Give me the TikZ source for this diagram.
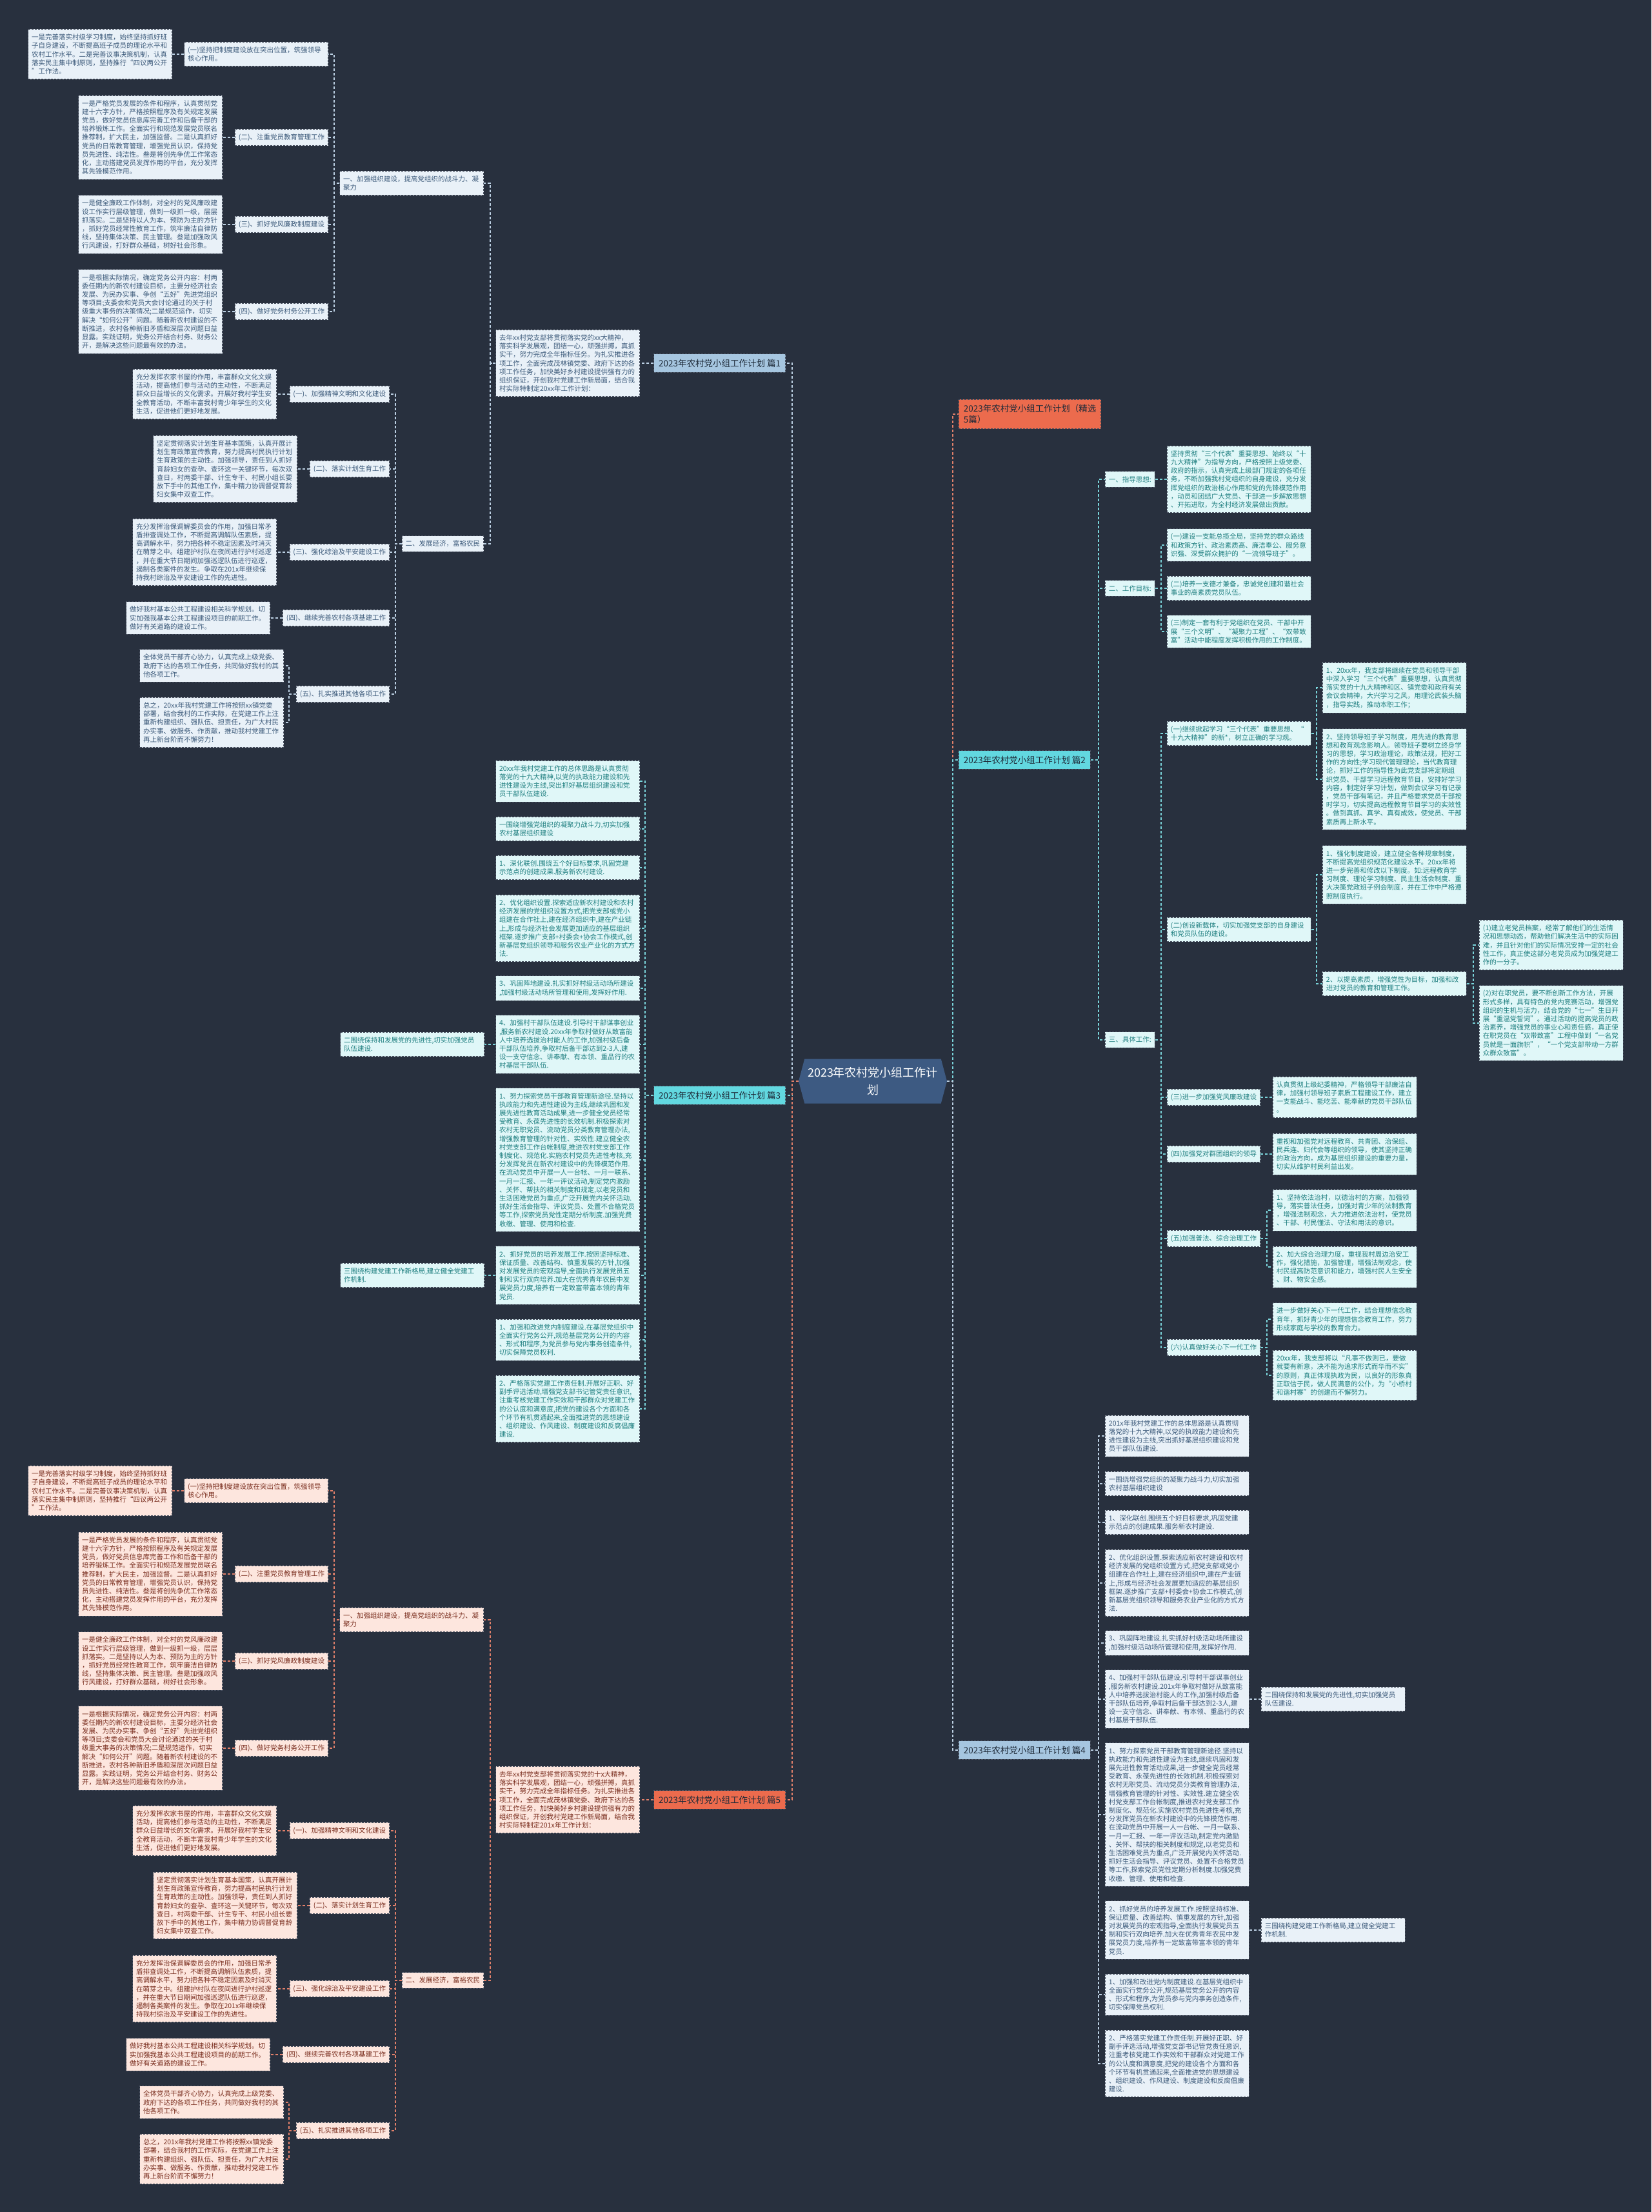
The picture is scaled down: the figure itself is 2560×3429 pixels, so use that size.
\documentclass[tikz,border=0pt]{standalone}
\usepackage{fontspec}
\setmainfont{Noto Sans CJK SC}
\usetikzlibrary{shapes.symbols,backgrounds}

\definecolor{bgc}{HTML}{28303E}
\definecolor{edgec}{HTML}{4A5262}
\definecolor{inkc}{HTML}{1E2A38}
\definecolor{hubc}{HTML}{3D5A82}
\definecolor{blueF}{HTML}{E9F1F8}
\definecolor{blueT}{HTML}{3C5A7A}
\definecolor{blueL}{HTML}{BCD0E3}
\definecolor{blueB}{HTML}{A6C6E0}
\definecolor{cyanF}{HTML}{E0F7F8}
\definecolor{cyanT}{HTML}{1F7F80}
\definecolor{cyanL}{HTML}{7AD4DA}
\definecolor{cyanB}{HTML}{62D8E0}
\definecolor{redF}{HTML}{FDE6DE}
\definecolor{redT}{HTML}{7A2E1F}
\definecolor{redL}{HTML}{E2806A}
\definecolor{redB}{HTML}{EC6B4D}

\tikzset{
  tagbox/.style={draw=edgec, dash pattern=on 3pt off 2pt, line width=0.9pt,
    inner xsep=5.5pt, inner ysep=7.3pt, align=left,
    font=\fontsize{10.5pt}{13.2pt}\selectfont},
  textbox/.style={tagbox, text width=212pt},
  bnote/.style={fill=blueF, text=blueT},
  cnote/.style={fill=cyanF, text=cyanT},
  rnote/.style={fill=redF, text=redT},
  topic/.style={draw=edgec, dash pattern=on 3pt off 2pt, line width=0.9pt,
    inner xsep=7.5pt, inner ysep=8pt, text=inkc, align=left,
    font=\fontsize{13.5pt}{17pt}\selectfont},
  wire/.style={dash pattern=on 4pt off 3pt, line width=1.5pt},
  bwire/.style={wire, draw=blueL},
  cwire/.style={wire, draw=cyanL},
  rwire/.style={wire, draw=redL}
}

\begin{document}
\begin{tikzpicture}[x=1pt,y=-1pt]
\useasboundingbox (0,0) rectangle (2560,3429);
\begin{scope}[on background layer]
\fill[bgc] (0,0) rectangle (2560,3429);
\end{scope}

% spines
\coordinate (sL) at (1228,0);
\coordinate (sR) at (1477,0);
\coordinate (s1) at (760,0);
\coordinate (s1a) at (518,0);
\coordinate (s1b) at (613,0);
\coordinate (s1c) at (448,0);
\coordinate (s3) at (1000,0);
\coordinate (s2) at (1703,0);
\coordinate (s2b) at (1800,0);
\coordinate (s2d) at (2041,0);
\coordinate (s2e) at (2284,0);
\coordinate (s2f) at (1964,0);

\node[shape=signal, signal to=west and east, signal pointer angle=150,
  fill=hubc, text=white, align=center, font=\fontsize{18pt}{27pt}\selectfont,
  minimum width=230pt, minimum height=69pt, inner sep=2pt] (hub) at (1353,1676)
  {2023年农村党小组工作计\\划};

% 篇1
\node[topic, fill=blueB, anchor=east] (b1) at (1218,563) {2023年农村党小组工作计划 篇1};
\node[textbox, bnote, anchor=east] (p1) at (992,563) {去年xx村党支部将贯彻落实党的xx大精神，\\落实科学发展观，团结一心，顽强拼搏，真抓\\实干，努力完成全年指标任务。为扎实推进各\\项工作，全面完成茂林镇党委、政府下达的各\\项工作任务，加快美好乡村建设提供强有力的\\组织保证，开创我村党建工作新局面，结合我\\村实际特制定20xx年工作计划：};
\node[textbox, bnote, anchor=east] (h1a) at (750,284) {一、加强组织建设，提高党组织的战斗力、凝\\聚力};
\node[tagbox, bnote, anchor=east] (h1b) at (750,843) {二、发展经济，富裕农民};

\node[textbox, bnote, anchor=east] (k1a) at (509,84) {(一)坚持把制度建设放在突出位置，筑强领导\\核心作用。};
\node[tagbox, bnote, anchor=east] (k1b) at (509,213) {(二)、注重党员教育管理工作};
\node[tagbox, bnote, anchor=east] (k1c) at (509,348) {(三)、抓好党风廉政制度建设};
\node[tagbox, bnote, anchor=east] (k1d) at (509,483) {(四)、做好党务村务公开工作};
\node[textbox, bnote, anchor=east] (q1a) at (267,84) {一是完善落实村级学习制度，始终坚持抓好班\\子自身建设，不断提高班子成员的理论水平和\\农村工作水平。二是完善议事决策机制，认真\\落实民主集中制原则，坚持推行“四议两公开\\”工作法。};
\node[textbox, bnote, anchor=east] (q1b) at (345,213) {一是严格党员发展的条件和程序，认真贯彻党\\建十六字方针，严格按照程序及有关规定发展\\党员，做好党员信息库完善工作和后备干部的\\培养锻炼工作。全面实行和规范发展党员联名\\推荐制，扩大民主，加强监督。二是认真抓好\\党员的日常教育管理，增强党员认识，保持党\\员先进性、纯洁性。叁是将创先争优工作常态\\化，主动搭建党员发挥作用的平台，充分发挥\\其先锋模范作用。};
\node[textbox, bnote, anchor=east] (q1c) at (345,348) {一是健全廉政工作体制，对全村的党风廉政建\\设工作实行层级管理，做到一级抓一级，层层\\抓落实。二是坚持以人为本、预防为主的方针\\，抓好党员经常性教育工作，筑牢廉洁自律防\\线，坚持集体决策、民主管理。叁是加强政风\\行风建设，打好群众基础，树好社会形象。};
\node[textbox, bnote, anchor=east] (q1d) at (345,483) {一是根据实际情况，确定党务公开内容：村两\\委任期内的新农村建设目标，主要分经济社会\\发展、为民办实事、争创“五好”先进党组织\\等项目;支委会和党员大会讨论通过的关于村\\级重大事务的决策情况;二是规范运作，切实\\解决“如何公开”问题。随着新农村建设的不\\断推进，农村各种新旧矛盾和深层次问题日益\\显露。实践证明，党务公开结合村务、财务公\\开，是解决这些问题最有效的办法。};

\node[tagbox, bnote, anchor=east] (k1e) at (604,611) {(一)、加强精神文明和文化建设};
\node[tagbox, bnote, anchor=east] (k1f) at (604,727) {(二)、落实计划生育工作};
\node[tagbox, bnote, anchor=east] (k1g) at (604,856) {(三)、强化综治及平安建设工作};
\node[tagbox, bnote, anchor=east] (k1h) at (604,958) {(四)、继续完善农村各项基建工作};
\node[tagbox, bnote, anchor=east] (k1i) at (604,1076) {(五)、扎实推进其他各项工作};
\node[textbox, bnote, anchor=east] (q1e) at (429,611) {充分发挥农家书屋的作用，丰富群众文化文娱\\活动，提高他们参与活动的主动性，不断满足\\群众日益增长的文化需求。开展好我村学生安\\全教育活动，不断丰富我村青少年学生的文化\\生活，促进他们更好地发展。};
\node[textbox, bnote, anchor=east] (q1f) at (461,727) {坚定贯彻落实计划生育基本国策，认真开展计\\划生育政策宣传教育，努力提高村民执行计划\\生育政策的主动性。加强领导，责任到人抓好\\育龄妇女的查孕、查环这一关键环节，每次双\\查日，村两委干部、计生专干、村民小组长要\\放下手中的其他工作，集中精力协调督促育龄\\妇女集中双查工作。};
\node[textbox, bnote, anchor=east] (q1g) at (429,856) {充分发挥治保调解委员会的作用，加强日常矛\\盾排查调处工作，不断提高调解队伍素质，提\\高调解水平，努力把各种不稳定因素及时消灭\\在萌芽之中。组建护村队在夜间进行护村巡逻\\，并在重大节日期间加强巡逻队伍进行巡逻，\\遏制各类案件的发生。争取在201x年继续保\\持我村综治及平安建设工作的先进性。};
\node[textbox, bnote, anchor=east] (q1h) at (419,958) {做好我村基本公共工程建设相关科学规划。切\\实加强我基本公共工程建设项目的前期工作。\\做好有关道路的建设工作。};
\node[textbox, bnote, anchor=east] (q1i) at (440,1032) {全体党员干部齐心协力，认真完成上级党委、\\政府下达的各项工作任务，共同做好我村的其\\他各项工作。};
\node[textbox, bnote, anchor=east] (q1j) at (440,1120) {总之，20xx年我村党建工作将按照xx镇党委\\部署，结合我村的工作实际，在党建工作上注\\重新构建组织、强队伍、担责任，为广大村民\\办实事、做服务、作贡献，推动我村党建工作\\再上新台阶而不懈努力！};

% 篇5
\begin{scope}[shift={(0,2227)}]
\node[topic, fill=redB, anchor=east] (b5) at (1218,563) {2023年农村党小组工作计划 篇5};
\node[textbox, rnote, anchor=east] (p5) at (992,563) {去年xx村党支部将贯彻落实党的十x大精神，\\落实科学发展观，团结一心，顽强拼搏，真抓\\实干，努力完成全年指标任务。为扎实推进各\\项工作，全面完成茂林镇党委、政府下达的各\\项工作任务，加快美好乡村建设提供强有力的\\组织保证，开创我村党建工作新局面，结合我\\村实际特制定201x年工作计划：};
\node[textbox, rnote, anchor=east] (h5a) at (750,284) {一、加强组织建设，提高党组织的战斗力、凝\\聚力};
\node[tagbox, rnote, anchor=east] (h5b) at (750,843) {二、发展经济，富裕农民};

\node[textbox, rnote, anchor=east] (k5a) at (509,84) {(一)坚持把制度建设放在突出位置，筑强领导\\核心作用。};
\node[tagbox, rnote, anchor=east] (k5b) at (509,213) {(二)、注重党员教育管理工作};
\node[tagbox, rnote, anchor=east] (k5c) at (509,348) {(三)、抓好党风廉政制度建设};
\node[tagbox, rnote, anchor=east] (k5d) at (509,483) {(四)、做好党务村务公开工作};
\node[textbox, rnote, anchor=east] (q5a) at (267,84) {一是完善落实村级学习制度，始终坚持抓好班\\子自身建设，不断提高班子成员的理论水平和\\农村工作水平。二是完善议事决策机制，认真\\落实民主集中制原则，坚持推行“四议两公开\\”工作法。};
\node[textbox, rnote, anchor=east] (q5b) at (345,213) {一是严格党员发展的条件和程序，认真贯彻党\\建十六字方针，严格按照程序及有关规定发展\\党员，做好党员信息库完善工作和后备干部的\\培养锻炼工作。全面实行和规范发展党员联名\\推荐制，扩大民主，加强监督。二是认真抓好\\党员的日常教育管理，增强党员认识，保持党\\员先进性、纯洁性。叁是将创先争优工作常态\\化，主动搭建党员发挥作用的平台，充分发挥\\其先锋模范作用。};
\node[textbox, rnote, anchor=east] (q5c) at (345,348) {一是健全廉政工作体制，对全村的党风廉政建\\设工作实行层级管理，做到一级抓一级，层层\\抓落实。二是坚持以人为本、预防为主的方针\\，抓好党员经常性教育工作，筑牢廉洁自律防\\线，坚持集体决策、民主管理。叁是加强政风\\行风建设，打好群众基础，树好社会形象。};
\node[textbox, rnote, anchor=east] (q5d) at (345,483) {一是根据实际情况，确定党务公开内容：村两\\委任期内的新农村建设目标，主要分经济社会\\发展、为民办实事、争创“五好”先进党组织\\等项目;支委会和党员大会讨论通过的关于村\\级重大事务的决策情况;二是规范运作，切实\\解决“如何公开”问题。随着新农村建设的不\\断推进，农村各种新旧矛盾和深层次问题日益\\显露。实践证明，党务公开结合村务、财务公\\开，是解决这些问题最有效的办法。};

\node[tagbox, rnote, anchor=east] (k5e) at (604,611) {(一)、加强精神文明和文化建设};
\node[tagbox, rnote, anchor=east] (k5f) at (604,727) {(二)、落实计划生育工作};
\node[tagbox, rnote, anchor=east] (k5g) at (604,856) {(三)、强化综治及平安建设工作};
\node[tagbox, rnote, anchor=east] (k5h) at (604,958) {(四)、继续完善农村各项基建工作};
\node[tagbox, rnote, anchor=east] (k5i) at (604,1076) {(五)、扎实推进其他各项工作};
\node[textbox, rnote, anchor=east] (q5e) at (429,611) {充分发挥农家书屋的作用，丰富群众文化文娱\\活动，提高他们参与活动的主动性，不断满足\\群众日益增长的文化需求。开展好我村学生安\\全教育活动，不断丰富我村青少年学生的文化\\生活，促进他们更好地发展。};
\node[textbox, rnote, anchor=east] (q5f) at (461,727) {坚定贯彻落实计划生育基本国策，认真开展计\\划生育政策宣传教育，努力提高村民执行计划\\生育政策的主动性。加强领导，责任到人抓好\\育龄妇女的查孕、查环这一关键环节，每次双\\查日，村两委干部、计生专干、村民小组长要\\放下手中的其他工作，集中精力协调督促育龄\\妇女集中双查工作。};
\node[textbox, rnote, anchor=east] (q5g) at (429,856) {充分发挥治保调解委员会的作用，加强日常矛\\盾排查调处工作，不断提高调解队伍素质，提\\高调解水平，努力把各种不稳定因素及时消灭\\在萌芽之中。组建护村队在夜间进行护村巡逻\\，并在重大节日期间加强巡逻队伍进行巡逻，\\遏制各类案件的发生。争取在201x年继续保\\持我村综治及平安建设工作的先进性。};
\node[textbox, rnote, anchor=east] (q5h) at (419,958) {做好我村基本公共工程建设相关科学规划。切\\实加强我基本公共工程建设项目的前期工作。\\做好有关道路的建设工作。};
\node[textbox, rnote, anchor=east] (q5i) at (440,1032) {全体党员干部齐心协力，认真完成上级党委、\\政府下达的各项工作任务，共同做好我村的其\\他各项工作。};
\node[textbox, rnote, anchor=east] (q5j) at (440,1120) {总之，201x年我村党建工作将按照xx镇党委\\部署，结合我村的工作实际，在党建工作上注\\重新构建组织、强队伍、担责任，为广大村民\\办实事、做服务、作贡献，推动我村党建工作\\再上新台阶而不懈努力！};
\end{scope}

% 篇3
\node[topic, fill=cyanB, anchor=east] (b3) at (1218,1698) {2023年农村党小组工作计划 篇3};
\node[textbox, cnote, anchor=east] (g3a) at (992,1211) {20xx年我村党建工作的总体思路是认真贯彻\\落党的十九大精神,以党的执政能力建设和先\\进性建设为主线,突出抓好基层组织建设和党\\员干部队伍建设.};
\node[textbox, cnote, anchor=east] (g3b) at (992,1285) {一围绕增强党组织的凝聚力战斗力,切实加强\\农村基层组织建设};
\node[textbox, cnote, anchor=east] (g3c) at (992,1345) {1、深化联创.围绕五个好目标要求,巩固党建\\示范点的创建成果.服务新农村建设.};
\node[textbox, cnote, anchor=east] (g3d) at (992,1439) {2、优化组织设置.探索适应新农村建设和农村\\经济发展的党组织设置方式,把党支部或党小\\组建在合作社上,建在经济组织中,建在产业链\\上,形成与经济社会发展更加适应的基层组织\\框架.逐步推广支部+村委会+协会工作模式,创\\新基层党组织领导和服务农业产业化的方式方\\法.};
\node[textbox, cnote, anchor=east] (g3e) at (992,1532) {3、巩固阵地建设.扎实抓好村级活动场所建设\\,加强村级活动场所管理和使用,发挥好作用.};
\node[textbox, cnote, anchor=east] (g3f) at (992,1619) {4、加强村干部队伍建设.引导村干部谋事创业\\,服务新农村建设.20xx年争取村做好从致富能\\人中培养选拔治村能人的工作,加强村级后备\\干部队伍培养,争取村后备干部达到2-3人,建\\设一支守信念、讲奉献、有本领、重品行的农\\村基层干部队伍.};
\node[textbox, cnote, anchor=east] (g3g) at (992,1798) {1、努力探索党员干部教育管理新途径.坚持以\\执政能力和先进性建设为主线,继续巩固和发\\展先进性教育活动成果,进一步健全党员经常\\受教育、永葆先进性的长效机制.积极探索对\\农村无职党员、流动党员分类教育管理办法,\\增强教育管理的针对性、实效性.建立健全农\\村党支部工作台帐制度,推进农村党支部工作\\制度化、规范化.实施农村党员先进性考核,充\\分发挥党员在新农村建设中的先锋模范作用.\\在流动党员中开展一人一台帐、一月一联系、\\一月一汇报、一年一评议活动,制定党内激励\\、关怀、帮扶的相关制度和规定,以老党员和\\生活困难党员为重点,广泛开展党内关怀活动.\\抓好生活会指导、评议党员、处置不合格党员\\等工作,探索党员党性定期分析制度.加强党费\\收缴、管理、使用和检查.};
\node[textbox, cnote, anchor=east] (g3h) at (992,1977) {2、抓好党员的培养发展工作.按照坚持标准、\\保证质量、改善结构、慎重发展的方针,加强\\对发展党员的宏观指导,全面执行发展党员五\\制和实行双向培养.加大在优秀青年农民中发\\展党员力度,培养有一定致富带富本领的青年\\党员.};
\node[textbox, cnote, anchor=east] (g3i) at (992,2077) {1、加强和改进党内制度建设.在基层党组织中\\全面实行党务公开,规范基层党务公开的内容\\、形式和程序,为党员参与党内事务创造条件,\\切实保障党员权利.};
\node[textbox, cnote, anchor=east] (g3j) at (992,2184) {2、严格落实党建工作责任制.开展好正职、好\\副手评选活动,增强党支部书记管党责任意识,\\注重考核党建工作实效和干部群众对党建工作\\的公认度和满意度,把党的建设各个方面和各\\个环节有机贯通起来,全面推进党的思想建设\\、组织建设、作风建设、制度建设和反腐倡廉\\建设.};
\node[textbox, cnote, anchor=east] (w3a) at (751,1619) {二围绕保持和发展党的先进性,切实加强党员\\队伍建设.};
\node[textbox, cnote, anchor=east] (w3b) at (751,1977) {三围绕构建党建工作新格局,建立健全党建工\\作机制.};

% 篇4
\node[topic, fill=blueB, anchor=west] (b4) at (1486,2713) {2023年农村党小组工作计划 篇4};
\node[textbox, bnote, anchor=west] (g4a) at (1713,2226) {201x年我村党建工作的总体思路是认真贯彻\\落党的十九大精神,以党的执政能力建设和先\\进性建设为主线,突出抓好基层组织建设和党\\员干部队伍建设.};
\node[textbox, bnote, anchor=west] (g4b) at (1713,2300) {一围绕增强党组织的凝聚力战斗力,切实加强\\农村基层组织建设};
\node[textbox, bnote, anchor=west] (g4c) at (1713,2360) {1、深化联创.围绕五个好目标要求,巩固党建\\示范点的创建成果.服务新农村建设.};
\node[textbox, bnote, anchor=west] (g4d) at (1713,2454) {2、优化组织设置.探索适应新农村建设和农村\\经济发展的党组织设置方式,把党支部或党小\\组建在合作社上,建在经济组织中,建在产业链\\上,形成与经济社会发展更加适应的基层组织\\框架.逐步推广支部+村委会+协会工作模式,创\\新基层党组织领导和服务农业产业化的方式方\\法.};
\node[textbox, bnote, anchor=west] (g4e) at (1713,2547) {3、巩固阵地建设.扎实抓好村级活动场所建设\\,加强村级活动场所管理和使用,发挥好作用.};
\node[textbox, bnote, anchor=west] (g4f) at (1713,2634) {4、加强村干部队伍建设.引导村干部谋事创业\\,服务新农村建设.201x年争取村做好从致富能\\人中培养选拔治村能人的工作,加强村级后备\\干部队伍培养,争取村后备干部达到2-3人,建\\设一支守信念、讲奉献、有本领、重品行的农\\村基层干部队伍.};
\node[textbox, bnote, anchor=west] (g4g) at (1713,2813) {1、努力探索党员干部教育管理新途径.坚持以\\执政能力和先进性建设为主线,继续巩固和发\\展先进性教育活动成果,进一步健全党员经常\\受教育、永葆先进性的长效机制.积极探索对\\农村无职党员、流动党员分类教育管理办法,\\增强教育管理的针对性、实效性.建立健全农\\村党支部工作台帐制度,推进农村党支部工作\\制度化、规范化.实施农村党员先进性考核,充\\分发挥党员在新农村建设中的先锋模范作用.\\在流动党员中开展一人一台帐、一月一联系、\\一月一汇报、一年一评议活动,制定党内激励\\、关怀、帮扶的相关制度和规定,以老党员和\\生活困难党员为重点,广泛开展党内关怀活动.\\抓好生活会指导、评议党员、处置不合格党员\\等工作,探索党员党性定期分析制度.加强党费\\收缴、管理、使用和检查.};
\node[textbox, bnote, anchor=west] (g4h) at (1713,2992) {2、抓好党员的培养发展工作.按照坚持标准、\\保证质量、改善结构、慎重发展的方针,加强\\对发展党员的宏观指导,全面执行发展党员五\\制和实行双向培养.加大在优秀青年农民中发\\展党员力度,培养有一定致富带富本领的青年\\党员.};
\node[textbox, bnote, anchor=west] (g4i) at (1713,3092) {1、加强和改进党内制度建设.在基层党组织中\\全面实行党务公开,规范基层党务公开的内容\\、形式和程序,为党员参与党内事务创造条件,\\切实保障党员权利.};
\node[textbox, bnote, anchor=west] (g4j) at (1713,3199) {2、严格落实党建工作责任制.开展好正职、好\\副手评选活动,增强党支部书记管党责任意识,\\注重考核党建工作实效和干部群众对党建工作\\的公认度和满意度,把党的建设各个方面和各\\个环节有机贯通起来,全面推进党的思想建设\\、组织建设、作风建设、制度建设和反腐倡廉\\建设.};
\node[textbox, bnote, anchor=west] (w4a) at (1955,2634) {二围绕保持和发展党的先进性,切实加强党员\\队伍建设.};
\node[textbox, bnote, anchor=west] (w4b) at (1955,2992) {三围绕构建党建工作新格局,建立健全党建工\\作机制.};

% 精选 and 篇2
\node[topic, fill=redB, anchor=west] (jx) at (1486,642) {2023年农村党小组工作计划（精选\\5篇）};
\node[topic, fill=cyanB, anchor=west] (b2) at (1486,1178) {2023年农村党小组工作计划 篇2};
\node[tagbox, cnote, anchor=west] (m2a) at (1713,743) {一、指导思想:};
\node[tagbox, cnote, anchor=west] (m2b) at (1713,912) {二、工作目标:};
\node[tagbox, cnote, anchor=west] (m2c) at (1713,1612) {三、具体工作:};
\node[textbox, cnote, anchor=west] (r2a) at (1809,743) {坚持贯彻“三个代表”重要思想、始终以“十\\九大精神”为指导方向，严格按照上级党委、\\政府的指示，认真完成上级部门规定的各项任\\务，不断加强我村党组织的自身建设，充分发\\挥党组织的政治核心作用和党的先锋模范作用\\，动员和团结广大党员、干部进一步解放思想\\、开拓进取，为全村经济发展做出贡献。};
\node[textbox, cnote, anchor=west] (r2b) at (1809,845) {(一)建设一支能总揽全局，坚持党的群众路线\\和政策方针、政治素质高、廉洁奉公、服务意\\识强、深受群众拥护的“一流领导班子”。};
\node[textbox, cnote, anchor=west] (r2c) at (1809,912) {(二)培养一支德才兼备，忠诚党创建和谐社会\\事业的高素质党员队伍。};
\node[textbox, cnote, anchor=west] (r2d) at (1809,979) {(三)制定一套有利于党组织在党员、干部中开\\展“三个文明”、“凝聚力工程”、“双带致\\富”活动中能程度发挥积极作用的工作制度。};

\node[textbox, cnote, anchor=west] (n2a) at (1809,1137) {(一)继续掀起学习“三个代表”重要思想、“\\十九大精神”的新*，树立正确的学习观。};
\node[textbox, cnote, anchor=west] (n2b) at (1809,1441) {(二)创设新载体，切实加强党支部的自身建设\\和党员队伍的建设。};
\node[tagbox, cnote, anchor=west] (n2c) at (1809,1701) {(三)进一步加强党风廉政建设};
\node[tagbox, cnote, anchor=west] (n2d) at (1809,1789) {(四)加强党对群团组织的领导};
\node[tagbox, cnote, anchor=west] (n2e) at (1809,1920) {(五)加强普法、综合治理工作};
\node[tagbox, cnote, anchor=west] (n2f) at (1809,2089) {(六)认真做好关心下一代工作};

\node[textbox, cnote, anchor=west] (t2a) at (2050,1066) {1、20xx年，我支部将继续在党员和领导干部\\中深入学习“三个代表”重要思想，认真贯彻\\落实党的十九大精神和区、镇党委和政府有关\\会议会精神，大兴学习之风，用理论武装头脑\\，指导实践，推动本职工作；};
\node[textbox, cnote, anchor=west] (t2b) at (2050,1208) {2、坚持领导班子学习制度，用先进的教育思\\想和教育观念影响人。领导班子要树立终身学\\习的思想，学习政治理论，政策法规，把好工\\作的方向性;学习现代管理理论，当代教育理\\论，抓好工作的指导性为此党支部将定期组\\织党员、干部学习远程教育节目，安排好学习\\内容，制定好学习计划，做到会议学习有记录\\，党员干部有笔记，并且严格要求党员干部按\\时学习，切实提高远程教育节目学习的实效性\\。做到真抓、真学、真有成效，使党员、干部\\素质再上新水平。};
\node[textbox, cnote, anchor=west] (t2c) at (2050,1356) {1、强化制度建设，建立健全各种规章制度，\\不断提高党组织规范化建设水平。20xx年将\\进一步完善和修改以下制度。如:远程教育学\\习制度、理论学习制度、民主生活会制度、重\\大决策党政班子例会制度，并在工作中严格遵\\照制度执行。};
\node[textbox, cnote, anchor=west] (t2d) at (2050,1525) {2、以提高素质，增强党性为目标，加强和改\\进对党员的教育和管理工作。};
\node[textbox, cnote, anchor=west] (u2a) at (2293,1465) {(1)建立老党员档案，经常了解他们的生活情\\况和思想动态，帮助他们解决生活中的实际困\\难，并且针对他们的实际情况安排一定的社会\\性工作，真正使这部分老党员成为加强党建工\\作的一分子。};
\node[textbox, cnote, anchor=west] (u2b) at (2293,1586) {(2)对在职党员，要不断创新工作方法，开展\\形式多样，具有特色的党内竞赛活动，增强党\\组织的生机与活力，结合党的“七一”生日开\\展“重温党誓词”。通过活动的提高党员的政\\治素养，增强党员的事业心和责任感，真正使\\在职党员在“双带致富”工程中做到“一名党\\员就是一面旗帜”，“一个党支部带动一方群\\众群众致富”。};
\node[textbox, cnote, anchor=west] (v2a) at (1973,1701) {认真贯彻上级纪委精神，严格领导干部廉洁自\\律，加强村领导班子素质工程建设工作，建立\\一支能战斗、能吃苦、能奉献的党员干部队伍\\。};
\node[textbox, cnote, anchor=west] (v2b) at (1973,1789) {重视和加强党对远程教育、共青团、治保组、\\民兵连、妇代会等组织的领导，使其坚持正确\\的政治方向，成为基层组织建设的重要力量，\\切实从维护村民利益出发。};
\node[textbox, cnote, anchor=west] (v2c) at (1973,1876) {1、坚持依法治村，以德治村的方案，加强领\\导，落实普法任务，加强对青少年的法制教育\\，增强法制观念，大力推进依法治村，使党员\\、干部、村民懂法、守法和用法的意识。};
\node[textbox, cnote, anchor=west] (v2d) at (1973,1964) {2、加大综合治理力度，重视我村周边治安工\\作，强化措施，加强管理，增强法制观念，使\\村民提高防范意识和能力，增强村民人生安全\\、财、物安全感。};
\node[textbox, cnote, anchor=west] (v2e) at (1973,2045) {进一步做好关心下一代工作，结合理想信念教\\育年，抓好青少年的理想信念教育工作，努力\\形成家庭与学校的教育合力。};
\node[textbox, cnote, anchor=west] (v2f) at (1973,2132) {20xx年，我支部将以“凡事不做则已，要做\\就要有新意，决不能为追求形式而华而不实”\\的原则，真正体现执政为民，以良好的形象真\\正取信于民，做人民满意的公仆，为“小桥村\\和谐村寨”的创建而不懈努力。};

% connectors
\begin{scope}[on background layer]
\draw[rwire] (hub.east) -- (sR |- hub.east) |- (jx.west);
\draw[cwire] (hub.east) -- (sR |- hub.east) |- (b2.west);
\draw[bwire] (hub.east) -- (sR |- hub.east) |- (b4.west);
\draw[bwire] (hub.west) -- (sL |- hub.west) |- (b1.east);
\draw[cwire] (hub.west) -- (sL |- hub.west) |- (b3.east);
\draw[rwire] (hub.west) -- (sL |- hub.west) |- (b5.east);

\foreach \n in {h1a,p1,h1b} \draw[bwire] (b1.west) -- (s1 |- b1.west) |- (\n.east);
\foreach \n in {k1a,k1b,k1c,k1d} \draw[bwire] (h1a.west) -- (s1a |- h1a.west) |- (\n.east);
\foreach \n in {k1e,k1f,k1g,k1h,k1i} \draw[bwire] (h1b.west) -- (s1b |- h1b.west) |- (\n.east);
\foreach \n in {q1i,q1j} \draw[bwire] (k1i.west) -- (s1c |- k1i.west) |- (\n.east);
\foreach \a/\b in {k1a/q1a,k1b/q1b,k1c/q1c,k1d/q1d,k1e/q1e,k1f/q1f,k1g/q1g,k1h/q1h}
  \draw[bwire] (\a.west) -- (\b.east);

\foreach \n in {h5a,p5,h5b} \draw[rwire] (b5.west) -- (s1 |- b5.west) |- (\n.east);
\foreach \n in {k5a,k5b,k5c,k5d} \draw[rwire] (h5a.west) -- (s1a |- h5a.west) |- (\n.east);
\foreach \n in {k5e,k5f,k5g,k5h,k5i} \draw[rwire] (h5b.west) -- (s1b |- h5b.west) |- (\n.east);
\foreach \n in {q5i,q5j} \draw[rwire] (k5i.west) -- (s1c |- k5i.west) |- (\n.east);
\foreach \a/\b in {k5a/q5a,k5b/q5b,k5c/q5c,k5d/q5d,k5e/q5e,k5f/q5f,k5g/q5g,k5h/q5h}
  \draw[rwire] (\a.west) -- (\b.east);

\foreach \n in {g3a,g3b,g3c,g3d,g3e,g3f,g3g,g3h,g3i,g3j}
  \draw[cwire] (b3.west) -- (s3 |- b3.west) |- (\n.east);
\draw[cwire] (g3f.west) -- (w3a.east);
\draw[cwire] (g3h.west) -- (w3b.east);

\foreach \n in {g4a,g4b,g4c,g4d,g4e,g4f,g4g,g4h,g4i,g4j}
  \draw[bwire] (b4.east) -- (s2 |- b4.east) |- (\n.west);
\draw[bwire] (g4f.east) -- (w4a.west);
\draw[bwire] (g4h.east) -- (w4b.west);

\foreach \n in {m2a,m2b,m2c} \draw[cwire] (b2.east) -- (s2 |- b2.east) |- (\n.west);
\draw[cwire] (m2a.east) -- (r2a.west);
\foreach \n in {r2b,r2c,r2d} \draw[cwire] (m2b.east) -- (s2b |- m2b.east) |- (\n.west);
\foreach \n in {n2a,n2b,n2c,n2d,n2e,n2f} \draw[cwire] (m2c.east) -- (s2b |- m2c.east) |- (\n.west);
\foreach \n in {t2a,t2b} \draw[cwire] (n2a.east) -- (s2d |- n2a.east) |- (\n.west);
\foreach \n in {t2c,t2d} \draw[cwire] (n2b.east) -- (s2d |- n2b.east) |- (\n.west);
\foreach \n in {u2a,u2b} \draw[cwire] (t2d.east) -- (s2e |- t2d.east) |- (\n.west);
\draw[cwire] (n2c.east) -- (v2a.west);
\draw[cwire] (n2d.east) -- (v2b.west);
\foreach \n in {v2c,v2d} \draw[cwire] (n2e.east) -- (s2f |- n2e.east) |- (\n.west);
\foreach \n in {v2e,v2f} \draw[cwire] (n2f.east) -- (s2f |- n2f.east) |- (\n.west);
\end{scope}
\end{tikzpicture}
\end{document}
